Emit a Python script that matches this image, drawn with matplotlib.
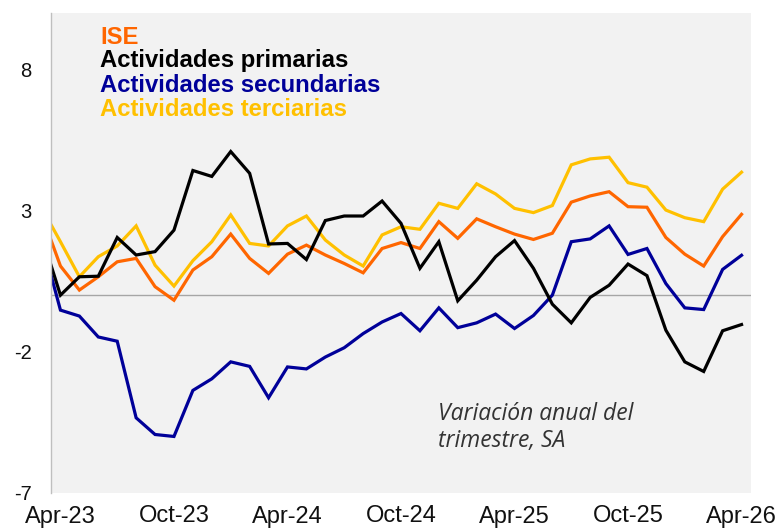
# -*- coding: utf-8 -*-
"""
ISE y actividades: variación anual del trimestre (SA), Apr-23 a Apr-26.
Recreación del gráfico de líneas con matplotlib.
"""

import numpy as np
import matplotlib
matplotlib.use('Agg')
import matplotlib.pyplot as plt

# ============================================================================
# Datos (el primer punto, Mar-23, queda recortado por el eje)
# ============================================================================

months = ['Mar-23',
          'Apr-23', 'May-23', 'Jun-23', 'Jul-23', 'Aug-23', 'Sep-23',
          'Oct-23', 'Nov-23', 'Dec-23', 'Jan-24', 'Feb-24', 'Mar-24',
          'Apr-24', 'May-24', 'Jun-24', 'Jul-24', 'Aug-24', 'Sep-24',
          'Oct-24', 'Nov-24', 'Dec-24', 'Jan-25', 'Feb-25', 'Mar-25',
          'Apr-25', 'May-25', 'Jun-25', 'Jul-25', 'Aug-25', 'Sep-25',
          'Oct-25', 'Nov-25', 'Dec-25', 'Jan-26', 'Feb-26', 'Mar-26',
          'Apr-26']

ise = [2.87,
       1.03, 0.18, 0.65, 1.18, 1.30, 0.30, -0.18, 0.89, 1.36, 2.16, 1.30, 0.77,
       1.45, 1.77, 1.42, 1.12, 0.79, 1.65, 1.86, 1.65, 2.60, 2.01, 2.70, 2.42,
       2.16, 1.97, 2.19, 3.29, 3.51, 3.66, 3.13, 3.11, 2.04, 1.45, 1.03, 2.07,
       2.86]

primarias = [2.12,
             0.00, 0.65, 0.67, 2.04, 1.42, 1.54, 2.30, 4.41, 4.20, 5.08, 4.31, 1.81,
             1.83, 1.26, 2.64, 2.80, 2.80, 3.33, 2.54, 0.95, 1.89, -0.20, 0.53, 1.36,
             1.93, 0.95, -0.32, -0.98, -0.08, 0.35, 1.10, 0.69, -1.24, -2.36, -2.70,
             -1.26, -1.04]

secundarias = [1.95,
               -0.53, -0.74, -1.48, -1.63, -4.34, -4.93, -5.00, -3.37, -2.96, -2.36,
               -2.52, -3.63, -2.54, -2.61, -2.19, -1.86, -1.36, -0.95, -0.65, -1.26,
               -0.45, -1.15, -0.98, -0.67, -1.18, -0.72, 0.00, 1.89, 1.99, 2.45,
               1.44, 1.65, 0.41, -0.45, -0.51, 0.91, 1.41]

terciarias = [3.10,
              1.89, 0.65, 1.36, 1.74, 2.45, 1.06, 0.32, 1.22, 1.89, 2.84, 1.83, 1.74,
              2.45, 2.80, 1.95, 1.42, 1.03, 2.13, 2.42, 2.33, 3.25, 3.07, 3.94, 3.58,
              3.07, 2.92, 3.17, 4.61, 4.82, 4.88, 3.98, 3.82, 3.01, 2.74, 2.60, 3.75,
              4.35]

tick_labels = ['Apr-23', 'Oct-23', 'Apr-24', 'Oct-24', 'Apr-25', 'Oct-25', 'Apr-26']
y_ticks = [-7, -2, 3, 8]

series_names = ['ISE', 'Actividades primarias', 'Actividades secundarias',
                'Actividades terciarias']
series_colors = ['#FF6600', '#000000', '#000099', '#FFC000']

# ============================================================================
# Gráfico
# ============================================================================

fig = plt.figure(figsize=(7.78, 5.28), dpi=100)
ax = fig.add_axes([51 / 778, 35 / 528, 700 / 778, 480.5 / 528])
ax.set_facecolor('#F2F2F2')

x = np.arange(len(months)) - 1  # Apr-23 -> 0
draw_order = [terciarias, ise, secundarias, primarias]
draw_colors = ['#FFC000', '#FF6600', '#000099', '#000000']
for values, color in zip(draw_order, draw_colors):
    ax.plot(x, values, color=color, linewidth=2.3, solid_joinstyle='miter')

ax.axhline(0, color='#A6A6A6', linewidth=1.0, zorder=0.5)

ax.set_xlim(-0.5, 36.5)
ax.set_ylim(-7, 10)

# ejes: solo línea izquierda gris
for side in ['top', 'right', 'bottom']:
    ax.spines[side].set_visible(False)
ax.spines['left'].set_color('#BFBFBF')
ax.spines['left'].set_linewidth(1.0)

tick_pos = [months.index(lbl) - 1 for lbl in tick_labels]
ax.set_xticks(tick_pos)
ax.set_xticklabels(tick_labels, family=['Liberation Sans Narrow', 'Liberation Sans'],
                   fontsize=17, color='#111111')
ax.set_yticks(y_ticks)
ax.set_yticklabels([str(v) for v in y_ticks], family='Liberation Sans',
                   fontsize=14.5, color='#111111')
ax.tick_params(axis='x', length=0, pad=9)
ax.tick_params(axis='y', length=0, pad=14)

# leyenda como texto de color
legend_y = [38, 61, 85, 109]
for name, color, yy in zip(series_names, series_colors, legend_y):
    fig.text(100 / 778, 1 - yy / 528, name, color=color, fontsize=17.2,
             fontweight='bold', family='Liberation Sans', va='center', ha='left')

# nota en cursiva
fig.text(438 / 778, 1 - 414 / 528, 'Variación anual del', fontsize=16.5,
         style='italic', color='#333333', family='Open Sans', va='center')
fig.text(438 / 778, 1 - 441 / 528, 'trimestre, SA', fontsize=16.5,
         style='italic', color='#333333', family='Open Sans', va='center')

fig.savefig('out.png', dpi=100)
